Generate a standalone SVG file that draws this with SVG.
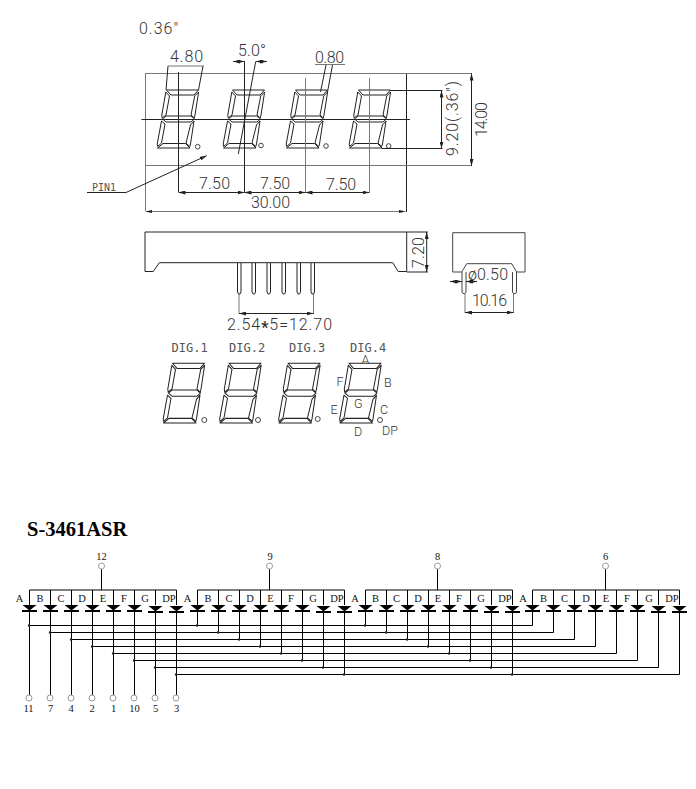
<svg xmlns="http://www.w3.org/2000/svg" xmlns:xlink="http://www.w3.org/1999/xlink" width="696" height="789" viewBox="0 0 696 789">
<style>
.cad{fill:none;stroke:#222;stroke-width:1}
.soft{fill:none;stroke:#777;stroke-width:1}
.t{font-family:Roboto,"Liberation Sans",Arial,sans-serif;font-weight:300;font-size:16px;fill:#333}
.m{font-family:"DejaVu Sans Mono","Liberation Mono",monospace;font-weight:400;font-size:12px;fill:#555}
.s{font-size:12.500px}
.dim{fill:none;stroke:#222;stroke-width:1;marker-start:url(#ah);marker-end:url(#ah)}
.seg{fill:none;stroke:#222;stroke-width:1;stroke-linejoin:round}
.dp{fill:#fff;stroke:#444;stroke-width:1}
.n{font-family:"Liberation Serif","Times New Roman",serif;font-size:10.500px;fill:#111;text-anchor:middle}
.wire{fill:none;stroke:#000;stroke-width:1}
.dots{fill:none;stroke:#222;stroke-width:2.400;stroke-linecap:round}
.pin{fill:#fff;stroke:#999;stroke-width:1}
</style>
<defs>
<marker id="ah" viewBox="0 0 7 4" refX="7" refY="2" markerWidth="7" markerHeight="4" markerUnits="userSpaceOnUse" orient="auto-start-reverse"><path d="M0 0L7 2L0 4Z" fill="#222"/></marker>
<g id="digit">
<polygon class="seg" points="9.500,-58 41.500,-58 37,-53 14,-53"/>
<polygon class="seg" points="5.500,-29 9,-32 34,-32 37.500,-29 34,-26 9,-26"/>
<polygon class="seg" points="0.500,0 33,0 28.500,-4.500 6,-4.500"/>
<polygon class="seg" points="8.800,-56 12.500,-52 9,-33 5.200,-30 4.800,-33"/>
<polygon class="seg" points="41.600,-56 37.700,-52 34,-33 37.200,-30 38,-33"/>
<polygon class="seg" points="4.500,-27 8,-24 4.500,-5 0.600,-1.500 0.200,-4"/>
<polygon class="seg" points="37,-27 33.500,-23 29,-5 32.800,-1.500 33.500,-4"/>
</g>
<g id="d"><path d="M-7 605H7L0 610.500Z" fill="#000"/><path d="M-7.500 611H7.500" stroke="#000" stroke-width="2"/></g>
</defs>

<g id="front-view">
<text class="t" x="139" y="33.500" textLength="39">0.36″</text>
<path class="soft" d="M145 73.500H406M145 165.500H406"/>
<path class="soft" d="M145.500 73V211M147 211.500H400"/>
<path class="cad" d="M406.500 73V212"/>
<path d="M145 211.500l7 -1.500v3zM406 211.500l-7 -1.500v3z" fill="#222"/>
<use href="#digit" x="157" y="148"/>
<use href="#digit" x="223" y="148"/>
<use href="#digit" x="286" y="148"/>
<use href="#digit" x="349" y="148"/>
<circle class="dp" cx="197.700" cy="146.700" r="2.300"/>
<circle class="dp" cx="261" cy="145.500" r="2.300"/>
<circle class="dp" cx="326" cy="146" r="2.300"/>
<circle class="dp" cx="388.700" cy="146" r="2.300"/>
<path class="cad" d="M141.500 119.500H410"/>
<path class="cad" d="M178.500 72V192M244.500 61V192"/>
<path class="soft" d="M305.500 78V192M369.500 78V192"/>
<path class="cad" d="M255.700 61.700L238.300 154"/>
<path class="cad" d="M168 66L166 90M203 66L198.500 90"/>
<path class="soft" d="M168 66H204"/>
<text class="t" x="170" y="62" textLength="33">4.80</text>
<text class="t" x="238" y="56" textLength="28">5.0°</text>
<path class="dim" d="M233 61.500H244.500"/>
<path class="dim" d="M267 61.500H255.700"/>
<text class="t" x="315" y="63" textLength="29">0.80</text>
<path class="soft" d="M315 64.500H345"/>
<path class="cad" d="M326 65L320.500 92M332.500 65L327.500 92"/>
<path class="dim" d="M178.500 192.500H244.500"/>
<path class="dim" d="M244.500 192.500H305.500"/>
<path class="dim" d="M305.500 192.500H369.500"/>
<text class="t" x="199" y="188.500" textLength="31">7.50</text>
<text class="t" x="260" y="188.500" textLength="30">7.50</text>
<text class="t" x="326" y="189.500" textLength="30">7.50</text>
<text class="t" x="251" y="208" textLength="39">30.00</text>
<text class="m" x="92" y="190.500" style="font-size:10px">PIN1</text>
<path class="cad" d="M87 192.500H126L206.700 155.700" marker-end="url(#ah)"/>
<path class="cad" d="M390 90.500H442.500M382 148.500H442.500"/>
<path class="dim" d="M441.500 90.500V148.500"/>
<path class="soft" d="M406 73.500H472M406 165.500H472"/>
<path class="dim" d="M471.500 73.500V166"/>
<text class="t" transform="translate(458 156) rotate(-90)" textLength="75">9.20(.36″)</text>
<text class="t" transform="translate(487 137) rotate(-90)" textLength="35">14.00</text>
</g>

<g id="side-view">
<polyline class="cad" points="145,232 145,271.500 153.300,271.500 159.300,262.700 392.700,262.700 398.300,271.500 406.700,271.500 406.700,232 145,232"/>
<path class="cad" d="M406.700 232H428M406.700 272H428"/>
<path class="dim" d="M426.700 232V272"/>
<text class="t" transform="translate(423.500 268) rotate(-90)" textLength="31">7.20</text>
<path class="cad" d="M237.500 263V292L238.500 294H240L241 292V263M252 263V292L253 294H254.500L255.500 292V263M267 263V292L268 294H269.500L270.500 292V263M282 263V292L283 294H284.500L285.500 292V263M297 263V292L298 294H299.500L300.500 292V263M311 263V292L312 294H313.500L314.500 292V263"/>
<path class="soft" d="M239 294V314M313.500 294V314"/>
<path class="dim" d="M239 313.500H313.500"/>
<text class="t" x="227" y="329.500" textLength="105">2.54<tspan dy="3" font-weight="bold">*</tspan><tspan dy="-3">5=12.70</tspan></text>
</g>

<g id="end-view">
<polyline class="soft" style="stroke:#444" points="452.700,232.700 525,232.700 525,272 516.700,272 511.700,263.700 466.700,263.700 461.700,272 452.700,272 452.700,232.700"/>
<path class="soft" style="stroke:#444" d="M462 272V292L463 293.500H465L466 292V272M512.500 272V292L513.500 293.500H515.500L516.500 292V272"/>
<path class="soft" d="M465 293V313M513.500 293V313"/>
<path class="dim" d="M465 312.500H513.500"/>
<text class="t" x="472" y="306" textLength="35">10.16</text>
<text class="t" x="468" y="280" textLength="40">ø0.50</text>
<path class="dim" d="M450 281.500H462"/>
<path class="dim" d="M477 281.500H466"/>
</g>

<g id="pin-digits">
<text class="m" x="171.500" y="352">DIG.1</text>
<text class="m" x="229" y="352">DIG.2</text>
<text class="m" x="289" y="352">DIG.3</text>
<text class="m" x="350" y="352">DIG.4</text>
<use href="#digit" transform="translate(163 423) scale(1 1.030)"/>
<use href="#digit" transform="translate(219.500 423) scale(1 1.030)"/>
<use href="#digit" transform="translate(278.500 423) scale(1 1.030)"/>
<use href="#digit" transform="translate(339.500 423) scale(1 1.030)"/>
<circle class="dp" cx="204.300" cy="420" r="2.500"/>
<circle class="dp" cx="258" cy="420" r="2.500"/>
<circle class="dp" cx="317.700" cy="419" r="2.500"/>
<circle class="dp" cx="380" cy="420" r="2.500"/>
<text class="t s" x="361.500" y="363.500">A</text>
<text class="t s" x="384" y="386.500">B</text>
<text class="t s" x="336.500" y="386">F</text>
<text class="t s" x="330.500" y="414">E</text>
<text class="t s" x="354" y="407.500">G</text>
<text class="t s" x="380" y="414">C</text>
<text class="t s" x="354" y="436">D</text>
<text class="t s" x="382" y="435">DP</text>
</g>

<text x="27" y="536" font-family="Liberation Serif, Times New Roman, serif" font-weight="bold" font-size="20.500" fill="#000">S-3461ASR</text>

<g id="connectors">
<path class="wire" d="M29.500 590H176.500M197.500 590H344.500M365.500 590H512.500M532.500 590H679.500"/>
<path class="wire" d="M101.500 569V590M269.500 569V590M437.500 569V590M605.500 569V590"/>
<path class="wire" d="M29.500 590V605M50.500 590V605M71.500 590V605M92.500 590V605M113.500 590V605M134.500 590V605M155.500 590V605M176.500 590V605"/>
<path class="wire" d="M197.500 590V605M218.500 590V605M239.500 590V605M260.500 590V605M281.500 590V605M302.500 590V605M323.500 590V605M344.500 590V605"/>
<path class="wire" d="M365.500 590V605M386.500 590V605M407.500 590V605M428.500 590V605M449.500 590V605M470.500 590V605M491.500 590V605M512.500 590V605"/>
<path class="wire" d="M532.500 590V605M553.500 590V605M574.500 590V605M595.500 590V605M616.500 590V605M637.500 590V605M658.500 590V605M679.500 590V605"/>
<path class="wire" d="M29.500 612V695M50.500 612V695M71.500 612V695M92.500 612V695M113.500 612V695M134.500 612V695M155.500 612V695M176.500 612V695"/>
<path class="wire" d="M29.500 625.500H532.500V612M197.500 612V625.500M365.500 612V625.500"/>
<path class="wire" d="M50.500 632.500H553.500V612M218.500 612V632.500M386.500 612V632.500"/>
<path class="wire" d="M71.500 639.500H574.500V612M239.500 612V639.500M407.500 612V639.500"/>
<path class="wire" d="M92.500 646.500H595.500V612M260.500 612V646.500M428.500 612V646.500"/>
<path class="wire" d="M113.500 653.500H616.500V612M281.500 612V653.500M449.500 612V653.500"/>
<path class="wire" d="M134.500 660.500H637.500V612M302.500 612V660.500M470.500 612V660.500"/>
<path class="wire" d="M155.500 667.500H658.500V612M323.500 612V667.500M491.500 612V667.500"/>
<path class="wire" d="M176.500 674.500H679.500V612M344.500 612V674.500M512.500 612V674.500"/>
<path class="dots" d="M29 625.500h0M197 625.500h0M50 632.500h0M218 632.500h0M71 639.500h0M239 639.500h0M92 646.500h0M113 653.500h0M134 660.500h0M155 667.500h0M176 674.500h0M260 646.500h0M281 653.500h0M302 660.500h0M323 667.500h0M344 674.500h0M365 625.500h0M386 632.500h0M407 639.500h0M428 646.500h0M449 653.500h0M470 660.500h0M491 667.500h0M512 674.500h0"/>
</g>

<g id="diodes">
<use href="#d" x="29.500"/><use href="#d" x="50.500"/><use href="#d" x="71.500"/><use href="#d" x="92.500"/><use href="#d" x="113.500"/><use href="#d" x="134.500"/><use href="#d" x="155.500" y="1"/><use href="#d" x="176.500" y="1"/>
<use href="#d" x="197.500"/><use href="#d" x="218.500"/><use href="#d" x="239.500"/><use href="#d" x="260.500"/><use href="#d" x="281.500"/><use href="#d" x="302.500"/><use href="#d" x="323.500" y="1"/><use href="#d" x="344.500" y="1"/>
<use href="#d" x="365.500"/><use href="#d" x="386.500"/><use href="#d" x="407.500"/><use href="#d" x="428.500"/><use href="#d" x="449.500"/><use href="#d" x="470.500"/><use href="#d" x="491.500" y="1"/><use href="#d" x="512.500" y="1"/>
<use href="#d" x="532.500"/><use href="#d" x="553.500"/><use href="#d" x="574.500"/><use href="#d" x="595.500"/><use href="#d" x="616.500"/><use href="#d" x="637.500"/><use href="#d" x="658.500" y="1"/><use href="#d" x="679.500" y="1"/>
</g>

<g id="segment-labels">
<text class="n" x="19.500" y="602">A</text><text class="n" x="40" y="602">B</text><text class="n" x="61" y="602">C</text><text class="n" x="82" y="602">D</text><text class="n" x="103" y="602">E</text><text class="n" x="124" y="602">F</text><text class="n" x="145" y="602">G</text><text class="n" x="169" y="602">DP</text>
<text class="n" x="187.500" y="602">A</text><text class="n" x="208" y="602">B</text><text class="n" x="229" y="602">C</text><text class="n" x="250" y="602">D</text><text class="n" x="270.500" y="602">E</text><text class="n" x="291" y="602">F</text><text class="n" x="313" y="602">G</text><text class="n" x="337" y="602">DP</text>
<text class="n" x="355" y="602">A</text><text class="n" x="375.500" y="602">B</text><text class="n" x="396.500" y="602">C</text><text class="n" x="418" y="602">D</text><text class="n" x="438" y="602">E</text><text class="n" x="459" y="602">F</text><text class="n" x="481" y="602">G</text><text class="n" x="505" y="602">DP</text>
<text class="n" x="523" y="602">A</text><text class="n" x="543.500" y="602">B</text><text class="n" x="564.500" y="602">C</text><text class="n" x="586" y="602">D</text><text class="n" x="606" y="602">E</text><text class="n" x="627" y="602">F</text><text class="n" x="649" y="602">G</text><text class="n" x="672" y="602">DP</text>
</g>

<g id="pin-12"><circle class="pin" cx="101.500" cy="566" r="3"/><text class="n" x="101.500" y="559.500">12</text></g>
<g id="pin-9"><circle class="pin" cx="269.500" cy="566" r="3"/><text class="n" x="270" y="559.500">9</text></g>
<g id="pin-8"><circle class="pin" cx="437.500" cy="566" r="3"/><text class="n" x="437.500" y="559.500">8</text></g>
<g id="pin-6"><circle class="pin" cx="605.500" cy="566" r="3"/><text class="n" x="605.500" y="559.500">6</text></g>
<g id="pin-11"><circle class="pin" cx="29" cy="698" r="3"/><text class="n" x="28.500" y="712">11</text></g>
<g id="pin-7"><circle class="pin" cx="50" cy="698" r="3"/><text class="n" x="50.500" y="712">7</text></g>
<g id="pin-4"><circle class="pin" cx="71" cy="698" r="3"/><text class="n" x="71" y="712">4</text></g>
<g id="pin-2"><circle class="pin" cx="92" cy="698" r="3"/><text class="n" x="92" y="712">2</text></g>
<g id="pin-1"><circle class="pin" cx="113" cy="698" r="3"/><text class="n" x="113.500" y="712">1</text></g>
<g id="pin-10"><circle class="pin" cx="134" cy="698" r="3"/><text class="n" x="134.500" y="712">10</text></g>
<g id="pin-5"><circle class="pin" cx="155" cy="698" r="3"/><text class="n" x="155.500" y="712">5</text></g>
<g id="pin-3"><circle class="pin" cx="176" cy="698" r="3"/><text class="n" x="176.500" y="712">3</text></g>
</svg>
